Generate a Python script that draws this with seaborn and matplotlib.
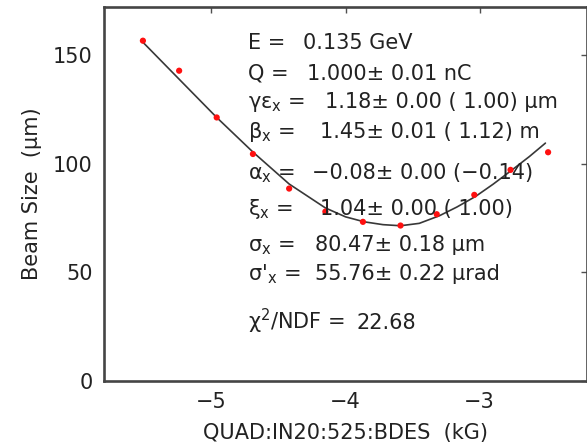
import numpy as np
import pandas as pd
import matplotlib
matplotlib.use("Agg")
import matplotlib.pyplot as plt
import seaborn as sns

# measured beam sizes
quad_kG = [-5.51, -5.24, -4.96, -4.69, -4.42, -4.15, -3.87, -3.59, -3.32, -3.04, -2.77, -2.49]
beam_size_um = [156.5, 142.7, 121.2, 104.4, 88.5, 77.9, 73.2, 71.5, 76.7, 85.6, 97.1, 105.2]

# fitted curve
fit_kG = [-5.51, -5.24, -4.96, -4.69, -4.42, -4.15, -4.00, -3.86, -3.72, -3.59,
          -3.45, -3.30, -3.17, -3.03, -2.90, -2.76, -2.63, -2.51]
fit_um = [155.8, 138.8, 121.2, 105.3, 90.6, 79.6, 75.5, 73.2, 71.9, 71.4,
          72.5, 76.0, 80.0, 84.9, 90.5, 97.0, 103.2, 109.4]

x_ticks = [-5, -4, -3]
y_ticks = [0, 50, 100, 150]

fit_names = [
    "E =",
    "Q =",
    "γε$_\\mathregular{x}$ =",
    "β$_\\mathregular{x}$ =",
    "α$_\\mathregular{x}$ =",
    "ξ$_\\mathregular{x}$ =",
    "σ$_\\mathregular{x}$ =",
    "σ'$_\\mathregular{x}$ =",
    "χ$^\\mathregular{2}$/NDF =",
]
fit_values = [
    "0.135 GeV",
    "1.000± 0.01 nC",
    "1.18± 0.00 ( 1.00) μm",
    "1.45± 0.01 ( 1.12) m",
    "−0.08± 0.00 (−0.14)",
    "1.04± 0.00 ( 1.00)",
    "80.47± 0.18 μm",
    "55.76± 0.22 μrad",
    "22.68",
]
# pixel layout of the text block (baseline y, value start x)
line_base_px = [49, 80, 108, 138, 179, 215, 251, 280, 329]
value_x_px = [303, 307, 325, 320, 312, 320, 315, 315, 357]

sns.set_style("white")
plt.rcParams["font.family"] = ["DejaVu Sans"]
plt.rcParams["mathtext.fontset"] = "dejavusans"

W, H = 587, 448
L, R, T, B = 104, 587, 7, 381
fig = plt.figure(figsize=(W / 100, H / 100), dpi=100)
ax = fig.add_axes([L / W, (H - B) / H, (R - L) / W, (B - T) / H])

pts = pd.DataFrame({"k": quad_kG, "s": beam_size_um})
fit = pd.DataFrame({"k": fit_kG, "s": fit_um})

sns.lineplot(data=fit, x="k", y="s", ax=ax, color="#383838", linewidth=1.2,
             sort=False, estimator=None, zorder=2)
sns.scatterplot(data=pts, x="k", y="s", ax=ax, color="#ff1010", s=20,
                marker="o", edgecolor="none", zorder=3)

ax.set_xlim(-5.8, -2.2)
ax.set_ylim(0, 172)
ax.set_xticks(x_ticks)
ax.set_xticklabels(["\u22125", "\u22124", "\u22123"])
ax.set_yticks(y_ticks)

for sp in ax.spines.values():
    sp.set_visible(True)
    sp.set_color("#454545")
    sp.set_linewidth(1.9)

ax.tick_params(direction="in", length=4, width=1.0, color="#505050",
               top=True, right=True, labelsize=15, labelcolor="#222222", pad=8)

ax.set_xlabel("QUAD:IN20:525:BDES  (kG)", fontsize=15, color="#222222")
ax.set_ylabel("Beam Size  (μm)", fontsize=15, color="#222222")
ax.xaxis.set_label_coords(0.5, -0.112)
ax.yaxis.set_label_coords(-0.128, 0.5)


def ax_x(px):
    return (px - L) / (R - L)


def ax_y(py):
    return (B - py) / (B - T)


for name, val, yb, xv in zip(fit_names, fit_values, line_base_px, value_x_px):
    ax.text(ax_x(248), ax_y(yb), name, transform=ax.transAxes,
            fontsize=15, color="#222222", va="baseline", ha="left")
    ax.text(ax_x(xv), ax_y(yb), val, transform=ax.transAxes,
            fontsize=15, color="#222222", va="baseline", ha="left")

fig.savefig("out.png", dpi=100)
